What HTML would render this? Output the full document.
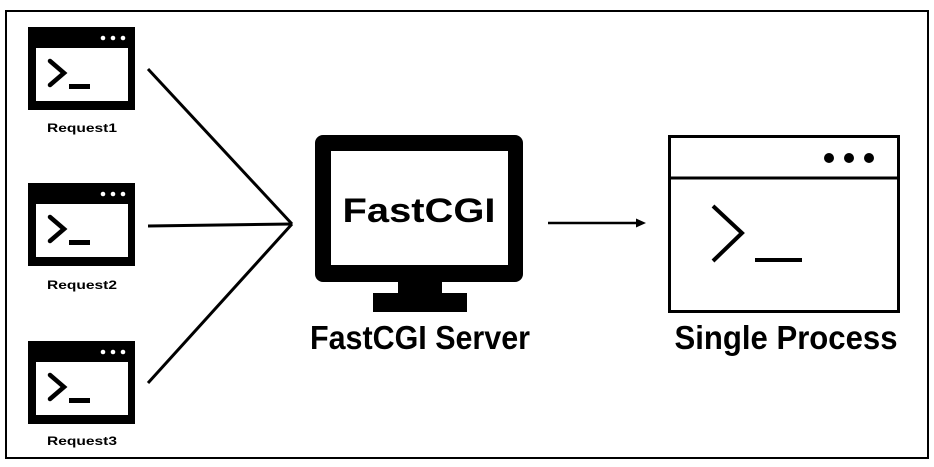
<!DOCTYPE html>
<html><head><meta charset="utf-8"><style>
html,body{margin:0;padding:0;background:#fff;width:934px;height:467px;overflow:hidden}
text{font-family:"Liberation Sans",sans-serif;font-weight:bold;fill:#000}
</style></head><body>
<svg width="934" height="467" viewBox="0 0 934 467" xmlns="http://www.w3.org/2000/svg">
<rect x="6" y="11" width="922" height="447" fill="#fff" stroke="#000" stroke-width="2"/>
<defs>
<g id="ic">
<rect x="28" y="0" width="107" height="83" fill="#000"/>
<rect x="36" y="21" width="92" height="53" fill="#fff"/>
<circle cx="103" cy="11" r="2.3" fill="#fff"/>
<circle cx="113" cy="11" r="2.3" fill="#fff"/>
<circle cx="123" cy="11" r="2.3" fill="#fff"/>
<polyline points="50,34 64,46 50,58" fill="none" stroke="#000" stroke-width="4.5" stroke-linecap="round" stroke-linejoin="miter"/>
<rect x="69" y="57" width="21" height="5" fill="#000"/>
</g>
</defs>
<use href="#ic" y="27"/>
<use href="#ic" y="183"/>
<use href="#ic" y="341"/>
<text x="82" y="132" font-size="12" text-anchor="middle" textLength="70" lengthAdjust="spacingAndGlyphs">Request1</text>
<text x="82" y="289" font-size="12" text-anchor="middle" textLength="70" lengthAdjust="spacingAndGlyphs">Request2</text>
<text x="82" y="445" font-size="12" text-anchor="middle" textLength="70" lengthAdjust="spacingAndGlyphs">Request3</text>
<g stroke="#000" stroke-width="3" fill="none">
<line x1="148" y1="69" x2="292" y2="224"/>
<line x1="148" y1="226" x2="292" y2="224"/>
<line x1="148" y1="383" x2="292" y2="224"/>
<line x1="548" y1="223" x2="638" y2="223" stroke-width="2.5"/>
</g>
<polygon points="646,223 636,218.5 636,227.5" fill="#000"/>
<rect x="315" y="135" width="208" height="147" rx="8" fill="#000"/>
<rect x="331" y="151" width="177" height="114" fill="#fff"/>
<rect x="398" y="280" width="44" height="16" fill="#000"/>
<rect x="373" y="293" width="94" height="19" fill="#000"/>
<text x="419" y="222" font-size="34" text-anchor="middle" font-weight="normal" textLength="153" lengthAdjust="spacingAndGlyphs" style="font-weight:600">FastCGI</text>
<text x="420" y="349" font-size="33" text-anchor="middle" textLength="220" lengthAdjust="spacingAndGlyphs">FastCGI Server</text>
<rect x="669.5" y="136.5" width="229" height="175" fill="#fff" stroke="#000" stroke-width="3"/>
<line x1="669" y1="178" x2="899" y2="178" stroke="#000" stroke-width="3"/>
<circle cx="829" cy="158" r="5" fill="#000"/>
<circle cx="849" cy="158" r="5" fill="#000"/>
<circle cx="869" cy="158" r="5" fill="#000"/>
<polyline points="713,206 742,233 713,261" fill="none" stroke="#000" stroke-width="4"/>
<rect x="755" y="258" width="47" height="4" fill="#000"/>
<text x="786" y="349" font-size="33" text-anchor="middle" textLength="223" lengthAdjust="spacingAndGlyphs">Single Process</text>
</svg>
</body></html>
